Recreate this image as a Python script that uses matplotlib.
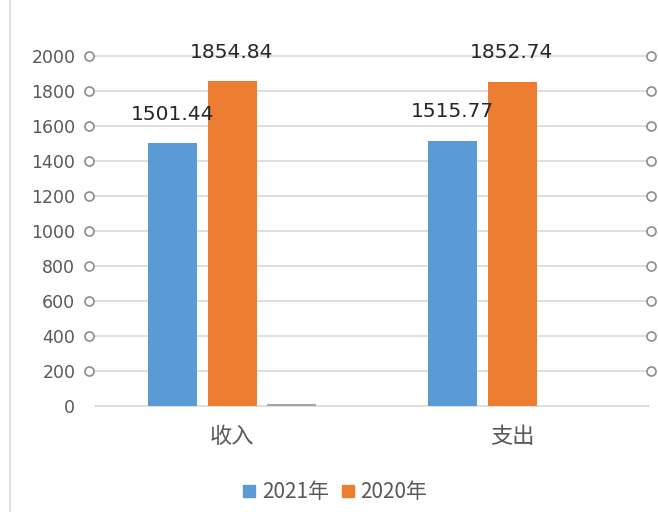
import numpy as np
import matplotlib
matplotlib.use("Agg")
import matplotlib.pyplot as plt
from matplotlib.lines import Line2D

plt.rcParams['font.family'] = ['Noto Sans CJK SC', 'DejaVu Sans']

categories = ["收入", "支出"]
series_names = ["2021年", "2020年"]
values_2021 = [1501.44, 1515.77]
values_2020 = [1854.84, 1852.74]
values_other = [12, 0]
yticks = np.arange(0, 2001, 200)

blue = "#5B9BD5"
orange = "#ED7D31"
grey_bar = "#A5A5A5"
text_c = "#595959"

fig = plt.figure(figsize=(6.58, 5.12), dpi=100)
ax = fig.add_axes([92 / 658, 1 - 406 / 512, 560 / 658, 350 / 512])

x = np.arange(len(categories))
w = 0.175
step = 0.214
b1 = ax.bar(x - step, values_2021, w, color=blue, label=series_names[0], zorder=3)
b2 = ax.bar(x, values_2020, w, color=orange, label=series_names[1], zorder=3)
ax.bar(x + step, values_other, w, color=grey_bar, zorder=3)

for bars, vals in [(b1, values_2021), (b2, values_2020)]:
    for rect, v in zip(bars, vals):
        ax.text(rect.get_x() + rect.get_width() / 2, v + 165, "{:.2f}".format(v),
                ha="center", va="center", fontsize=14.5, color="#262626",
                family=["DejaVu Sans"], clip_on=False)

ax.set_xlim(-0.5, 1.5)
ax.set_ylim(0, 2000)

# gridlines with end handles
for yv in yticks:
    ax.plot([-0.49, 1.49], [yv, yv], color="#D9D9D9", lw=1.2, zorder=1, clip_on=False)
    if yv > 0:
        ax.plot([-0.51, 1.495], [yv, yv], ls="none", marker="o", ms=6.5,
                mfc="white", mec="#8C8C8C", mew=1.2, clip_on=False, zorder=4)

for s in ax.spines.values():
    s.set_visible(False)

ax.set_yticks(yticks)
ax.set_yticklabels([str(v) for v in yticks], family=["DejaVu Sans"])
ax.tick_params(axis="y", length=0, pad=12, labelsize=12.5, labelcolor=text_c)
ax.set_xticks(x)
ax.set_xticklabels(categories)
ax.tick_params(axis="x", length=0, pad=14, labelsize=16, labelcolor=text_c)

handles = [Line2D([], [], ls="none", marker="s", ms=9, color=blue),
           Line2D([], [], ls="none", marker="s", ms=9, color=orange)]
fig.legend(handles, series_names, loc="center", bbox_to_anchor=(333 / 658, 1 - 492 / 512),
           ncol=2, frameon=False, fontsize=15, labelcolor=text_c,
           handletextpad=0.1, columnspacing=0.4, handlelength=1.0)

# left border line of the screenshot
fig.add_artist(Line2D([10 / 658, 10 / 658], [0, 1], color="#D9D9D9", lw=1.2))

fig.savefig("out.png", dpi=100, facecolor="white")
